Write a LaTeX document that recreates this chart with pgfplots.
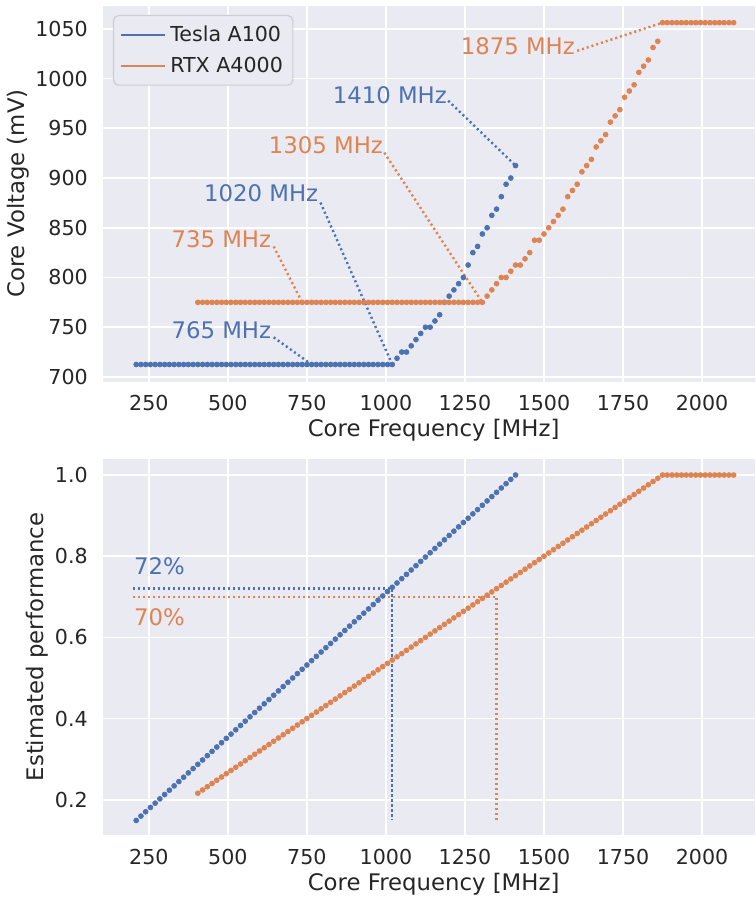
\documentclass[border=0pt]{standalone}
\usepackage{pgfplots}
\pgfplotsset{compat=1.18}
\usepackage{fontspec}
\setmainfont{DejaVu Sans}
\definecolor{sbblue}{HTML}{4C72B0}
\definecolor{sborange}{HTML}{DD8452}
\definecolor{bg}{HTML}{EAEAF2}
\definecolor{txt}{HTML}{262626}
\definecolor{legedge}{HTML}{CDCDD3}
\newcommand{\tickfont}{\fontsize{10.3}{12}\selectfont}
\newcommand{\labfont}{\fontsize{11.4}{13}\selectfont}
\pgfplotsset{
  sb/.style={
    width=326pt, height=188pt, scale only axis,
    axis background/.style={fill=bg},
    axis line style={draw=none},
    grid=major, grid style={white, line width=0.85pt},
    major tick length=0pt,
    xmin=105, xmax=2167.5,
    xtick={250,500,750,1000,1250,1500,1750,2000},
    tick label style={font=\tickfont, text=txt},
    label style={font=\labfont, text=txt},
    /pgf/number format/assume math mode=true,
    /pgf/number format/1000 sep={},
    xticklabel style={yshift=-3.5pt},
    yticklabel style={xshift=-4.1pt},
    xlabel style={at={(axis description cs:0.5,0)}, anchor=center, yshift=-24.5pt, xshift=2.3pt},
    xlabel={Core Frequency [MHz]},
  },
  dots/.style={only marks, mark=*, mark size=1.2pt, mark options={draw=none}},
  anno/.style={line width=1.2pt, dash pattern=on 1.05pt off 1.45pt, forget plot},
}
\begin{document}
\begin{tikzpicture}
% ---------------- top: core voltage ----------------
\begin{axis}[sb, at={(0,0)}, anchor=north west,
  ymin=695.3, ymax=1073.4,
  ytick={700,750,800,850,900,950,1000,1050},
  ylabel={Core Voltage (mV)},
  ylabel style={at={(axis description cs:-0.1304,0.5)}, anchor=center},
  legend style={at={(axis description cs:0,1)}, anchor=north west, xshift=5pt, yshift=-4.7pt,
    fill=bg, draw=legedge, line width=0.6pt, rounded corners=2.5pt, font=\tickfont, text=txt,
    inner xsep=3pt, inner ysep=3pt, row sep=2.3pt},
  legend cell align=left,
  legend image code/.code={\draw[line width=1.35pt] (0pt,0pt) -- (22pt,0pt);},
]
\addlegendimage{color=sbblue}
\addlegendentry{Tesla A100}
\addlegendimage{color=sborange}
\addlegendentry{RTX A4000}
% Tesla A100
\addplot[dots, color=sbblue, forget plot] coordinates {
(210,712.5) (225,712.5) (240,712.5) (255,712.5) (270,712.5) (285,712.5) (300,712.5) (315,712.5) (330,712.5) (345,712.5)
(360,712.5) (375,712.5) (390,712.5) (405,712.5) (420,712.5) (435,712.5) (450,712.5) (465,712.5) (480,712.5) (495,712.5)
(510,712.5) (525,712.5) (540,712.5) (555,712.5) (570,712.5) (585,712.5) (600,712.5) (615,712.5) (630,712.5) (645,712.5)
(660,712.5) (675,712.5) (690,712.5) (705,712.5) (720,712.5) (735,712.5) (750,712.5) (765,712.5) (780,712.5) (795,712.5)
(810,712.5) (825,712.5) (840,712.5) (855,712.5) (870,712.5) (885,712.5) (900,712.5) (915,712.5) (930,712.5) (945,712.5)
(960,712.5) (975,712.5) (990,712.5) (1005,712.5) (1020,712.5)
(1035,718.75) (1050,725) (1065,725) (1080,731.25) (1095,737.5) (1110,743.75) (1125,750) (1140,750) (1155,756.25) (1170,762.5)
(1185,775) (1200,781.25) (1215,787.5) (1230,793.75) (1245,800) (1260,812.5) (1275,825) (1290,831.25) (1305,843.75) (1320,850)
(1335,862.5) (1350,868.75) (1365,881.25) (1380,893.75) (1395,900) (1410,912.5)
};
% RTX A4000
\addplot[dots, color=sborange, forget plot] coordinates {
(405,775) (420,775) (435,775) (450,775) (465,775) (480,775) (495,775) (510,775) (525,775) (540,775)
(555,775) (570,775) (585,775) (600,775) (615,775) (630,775) (645,775) (660,775) (675,775) (690,775)
(705,775) (720,775) (735,775) (750,775) (765,775) (780,775) (795,775) (810,775) (825,775) (840,775)
(855,775) (870,775) (885,775) (900,775) (915,775) (930,775) (945,775) (960,775) (975,775) (990,775)
(1005,775) (1020,775) (1035,775) (1050,775) (1065,775) (1080,775) (1095,775) (1110,775) (1125,775) (1140,775)
(1155,775) (1170,775) (1185,775) (1200,775) (1215,775) (1230,775) (1245,775) (1260,775) (1275,775) (1290,775)
(1305,775)
(1320,781.25) (1335,787.5) (1350,793.75) (1365,800) (1380,800) (1395,806.25) (1410,812.5) (1425,812.5) (1440,818.75) (1455,825)
(1470,837.5) (1485,837.5) (1500,843.75) (1515,850) (1530,856.25) (1545,862.5) (1560,868.75) (1575,881.25) (1590,887.5) (1605,893.75)
(1620,906.25) (1635,912.5) (1650,918.75) (1665,931.25) (1680,937.5) (1695,943.75) (1710,956.25) (1725,962.5) (1740,968.75) (1755,981.25)
(1770,987.5) (1785,993.75) (1800,1006.25) (1815,1012.5) (1830,1018.75) (1845,1031.25) (1860,1037.5)
(1875,1056.25) (1890,1056.25) (1905,1056.25) (1920,1056.25) (1935,1056.25) (1950,1056.25) (1965,1056.25) (1980,1056.25)
(1995,1056.25) (2010,1056.25) (2025,1056.25) (2040,1056.25) (2055,1056.25) (2070,1056.25) (2085,1056.25) (2100,1056.25)
};
% annotation leader lines
\addplot[anno, color=sbblue] coordinates {(1197,977.8) (1410,912.5)};
\addplot[anno, color=sborange] coordinates {(1605,1027.9) (1875,1056.25)};
\addplot[anno, color=sborange] coordinates {(995,925.5) (1305,775)};
\addplot[anno, color=sbblue] coordinates {(793,875.3) (1020,712.5)};
\addplot[anno, color=sborange] coordinates {(645,831.2) (735,775)};
\addplot[anno, color=sbblue] coordinates {(645,739.8) (765,712.5)};
\node[anchor=east, inner sep=0pt, text=sbblue, font=\labfont] at (axis cs:1194,982.8) {1410 MHz};
\node[anchor=east, inner sep=0pt, text=sborange, font=\labfont] at (axis cs:1599,1033) {1875 MHz};
\node[anchor=east, inner sep=0pt, text=sborange, font=\labfont] at (axis cs:992,932.6) {1305 MHz};
\node[anchor=east, inner sep=0pt, text=sbblue, font=\labfont] at (axis cs:787,884.4) {1020 MHz};
\node[anchor=east, inner sep=0pt, text=sborange, font=\labfont] at (axis cs:638,838.2) {735 MHz};
\node[anchor=east, inner sep=0pt, text=sbblue, font=\labfont] at (axis cs:638,746.9) {765 MHz};
\end{axis}
% ---------------- bottom: estimated performance ----------------
\begin{axis}[sb, at={(0,-226.7pt)}, anchor=north west,
  ymin=0.113, ymax=1.0395,
  ytick={0.2,0.4,0.6,0.8,1.0},
  yticklabel style={/pgf/number format/fixed, /pgf/number format/fixed zerofill, /pgf/number format/precision=1},
  ylabel={Estimated performance},
  ylabel style={at={(axis description cs:-0.1005,0.5)}, anchor=center},
]
\addplot[dots, color=sbblue] coordinates {
(210,0.1489) (225,0.1596) (240,0.1702) (255,0.1809) (270,0.1915) (285,0.2021) (300,0.2128) (315,0.2234) (330,0.2340) (345,0.2447)
(360,0.2553) (375,0.2660) (390,0.2766) (405,0.2872) (420,0.2979) (435,0.3085) (450,0.3191) (465,0.3298) (480,0.3404) (495,0.3511)
(510,0.3617) (525,0.3723) (540,0.3830) (555,0.3936) (570,0.4043) (585,0.4149) (600,0.4255) (615,0.4362) (630,0.4468) (645,0.4574)
(660,0.4681) (675,0.4787) (690,0.4894) (705,0.5000) (720,0.5106) (735,0.5213) (750,0.5319) (765,0.5426) (780,0.5532) (795,0.5638)
(810,0.5745) (825,0.5851) (840,0.5957) (855,0.6064) (870,0.6170) (885,0.6277) (900,0.6383) (915,0.6489) (930,0.6596) (945,0.6702)
(960,0.6809) (975,0.6915) (990,0.7021) (1005,0.7128) (1020,0.7234) (1035,0.7340) (1050,0.7447) (1065,0.7553) (1080,0.7660) (1095,0.7766)
(1110,0.7872) (1125,0.7979) (1140,0.8085) (1155,0.8191) (1170,0.8298) (1185,0.8404) (1200,0.8511) (1215,0.8617) (1230,0.8723) (1245,0.8830)
(1260,0.8936) (1275,0.9043) (1290,0.9149) (1305,0.9255) (1320,0.9362) (1335,0.9468) (1350,0.9574) (1365,0.9681) (1380,0.9787) (1395,0.9894)
(1410,1.0000)
};
\addplot[dots, color=sborange] coordinates {
(405,0.216) (420,0.224) (435,0.232) (450,0.240) (465,0.248) (480,0.256) (495,0.264) (510,0.272) (525,0.280) (540,0.288)
(555,0.296) (570,0.304) (585,0.312) (600,0.320) (615,0.328) (630,0.336) (645,0.344) (660,0.352) (675,0.360) (690,0.368)
(705,0.376) (720,0.384) (735,0.392) (750,0.400) (765,0.408) (780,0.416) (795,0.424) (810,0.432) (825,0.440) (840,0.448)
(855,0.456) (870,0.464) (885,0.472) (900,0.480) (915,0.488) (930,0.496) (945,0.504) (960,0.512) (975,0.520) (990,0.528)
(1005,0.536) (1020,0.544) (1035,0.552) (1050,0.560) (1065,0.568) (1080,0.576) (1095,0.584) (1110,0.592) (1125,0.600) (1140,0.608)
(1155,0.616) (1170,0.624) (1185,0.632) (1200,0.640) (1215,0.648) (1230,0.656) (1245,0.664) (1260,0.672) (1275,0.680) (1290,0.688)
(1305,0.696) (1320,0.704) (1335,0.712) (1350,0.720) (1365,0.728) (1380,0.736) (1395,0.744) (1410,0.752) (1425,0.760) (1440,0.768)
(1455,0.776) (1470,0.784) (1485,0.792) (1500,0.800) (1515,0.808) (1530,0.816) (1545,0.824) (1560,0.832) (1575,0.840) (1590,0.848)
(1605,0.856) (1620,0.864) (1635,0.872) (1650,0.880) (1665,0.888) (1680,0.896) (1695,0.904) (1710,0.912) (1725,0.920) (1740,0.928)
(1755,0.936) (1770,0.944) (1785,0.952) (1800,0.960) (1815,0.968) (1830,0.976) (1845,0.984) (1860,0.992) (1875,1.000) (1890,1.000)
(1905,1.000) (1920,1.000) (1935,1.000) (1950,1.000) (1965,1.000) (1980,1.000) (1995,1.000) (2010,1.000) (2025,1.000) (2040,1.000)
(2055,1.000) (2070,1.000) (2085,1.000) (2100,1.000)
};
\addplot[anno, color=sbblue] coordinates {(200,0.72) (1020,0.72) (1020,0.15)};
\addplot[anno, color=sborange] coordinates {(200,0.70) (1350,0.70) (1350,0.15)};
\node[anchor=west, inner sep=0pt, text=sbblue, font=\labfont] at (axis cs:202,0.775) {72\%};
\node[anchor=west, inner sep=0pt, text=sborange, font=\labfont] at (axis cs:202,0.649) {70\%};
\end{axis}
\pgfresetboundingbox
\path[use as bounding box] (-51.5pt,2.8pt) rectangle (326pt,-446.7pt);
\end{tikzpicture}
\end{document}
